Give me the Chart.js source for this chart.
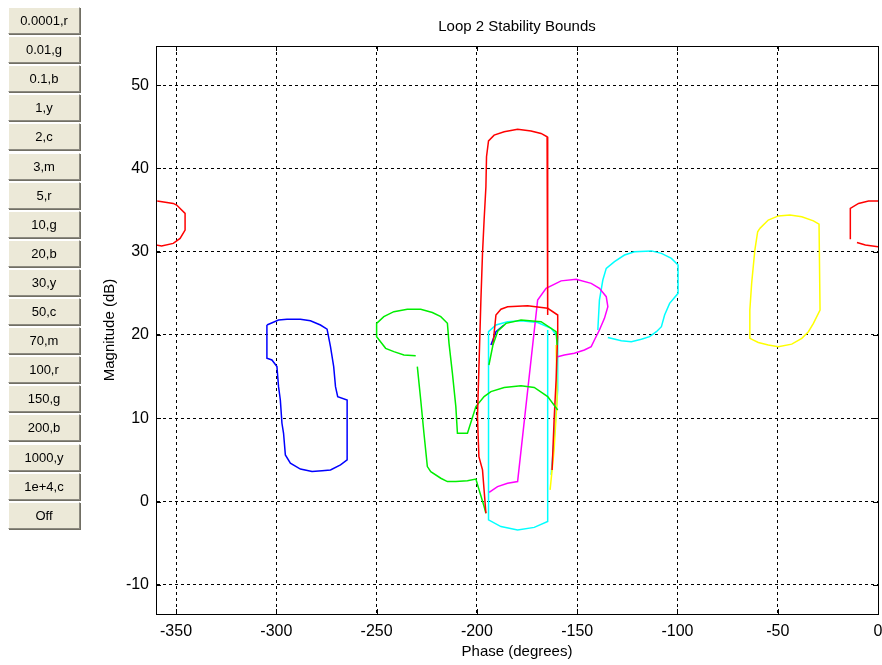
<!DOCTYPE html>
<html>
<head>
<meta charset="utf-8">
<script src="https://cdn.jsdelivr.net/npm/chart.js@4/dist/chart.umd.min.js"></script>
<style>
  body{margin:0;background:#fff;}
  #wrap{position:relative;width:882px;height:665px;overflow:hidden;}
  #chart{position:absolute;left:0;top:0;}
  .btn{position:absolute;left:8px;width:72px;height:27px;box-sizing:border-box;background:#ece9d8;
    border-top:1px solid #fff;border-left:1px solid #fff;border-right:1px solid #8c8a80;border-bottom:1px solid #8c8a80;
    box-shadow:1px 1px 0 #716f64;font:13px "Liberation Sans",Arial,sans-serif;color:#000;text-align:center;line-height:25px;}
</style>
</head>
<body>
<div id="wrap">
  <canvas id="chart" width="882" height="665"></canvas>
</div>
<script>
// tick labels / buttons
const phaseTicks = [-350,-300,-250,-200,-150,-100,-50,0];
const magTicks = [-10,0,10,20,30,40,50];
const freqButtons = ['0.0001,r','0.01,g','0.1,b','1,y','2,c','3,m','5,r','10,g','20,b','30,y','50,c','70,m','100,r','150,g','200,b','1000,y','1e+4,c','Off'];

// bound curves (phase in degrees, magnitude in dB)
const redWrapLPhase = [-359.4,-351.4,-349.7,-345.5,-345.5,-348,-351.4,-357.2,-360];
const redWrapLMag   = [36.1,35.8,35.6,34.6,32.6,31.6,31.0,30.7,30.8];
const redWrapRPhase = [-13.8,-13.8,-9.7,-4.7,0];
const redWrapRMag   = [31.5,35.2,35.8,36.1,36.1];
const redWrapR2Phase = [-10.5,-6.3,0];
const redWrapR2Mag   = [31.1,30.8,30.6];
const redTallPhase = [-195.5,-197.2,-199,-199.7,-198,-197.2,-196.4,-195.5,-195.2,-194.2,-191.4,-186.4,-179.7,-173,-168,-165,-164.7];
const redTallMag   = [-1.4,3.8,5.4,10.2,24.2,29.8,33.8,37.8,41.4,43.3,44.0,44.4,44.7,44.5,44.2,43.8,22.4];
const redArcPhase = [-192,-190.5,-188,-184.7,-174.7,-164.7,-159.7,-159.7,-160.5,-161.5,-162.5];
const redArcMag   = [18.8,22.4,23.1,23.4,23.5,23.2,22.4,20.2,14.6,9.8,3.8];
const cyanCapPhase = [-164.7,-164.7,-171.4,-179.7,-188,-194.2,-194.2,-190.5,-184.7,-178,-169.7,-163,-159.7,-159.7,-161.5,-163];
const cyanCapMag   = [20.6,-2.4,-3.1,-3.4,-3.0,-2.2,20.4,21.2,21.6,21.7,21.5,20.8,19.8,13.4,7.4,3.2];
const greenMainPhase = [-230.5,-236.4,-241.4,-245.5,-250,-250,-246.4,-241.4,-234.7,-228,-222.2,-218,-214.7,-213.9,-212.2,-210.5,-209.7,-204.7,-200.5,-196.4,-193,-186.4,-178,-171.4,-164.7,-159.7];
const greenMainMag   = [17.5,17.6,18.0,18.4,19.8,21.4,22.2,22.8,23.1,23.1,22.7,22.2,21.4,19.0,15.4,11.4,8.2,8.2,11.4,12.6,13.2,13.7,13.9,13.7,12.6,11.0];
const greenLowPhase = [-229.7,-228,-226.4,-224.7,-223,-218,-214.7,-210.5,-204.7,-200.5,-198.9,-196.4,-195.5];
const greenLowMag   = [16.2,12.2,8.2,4.2,3.6,2.8,2.4,2.4,2.5,2.7,1.4,-0.6,-1.4];
const greenTopPhase = [-194,-192,-189.5,-185.5,-178,-168,-160.5,-160];
const greenTopMag   = [16.4,18.8,20.5,21.4,21.8,21.6,20.4,18.8];
const bluePhase = [-304.7,-298.9,-294.7,-288,-283,-278,-274.7,-273,-271.4,-270.5,-269.4,-264.7,-264.7,-268,-273,-277.2,-282.2,-288,-293,-295.5,-296.4,-297.2,-298,-298.9,-299.7,-302.2,-304.7,-304.7];
const blueMag   = [21.2,21.8,21.9,21.9,21.7,21.2,20.7,18.6,16.2,13.8,12.6,12.2,5.0,4.4,3.8,3.7,3.6,3.9,4.6,5.6,8.2,9.4,12.2,13.8,16.2,17.0,17.2,21.2];
const blueBitPhase = [-193,-190.5,-186.5];
const blueBitMag   = [18.8,20.4,21.2];
const magentaPhase = [-193.9,-189.7,-184.7,-179.7,-169.7,-165.5,-158,-150.5,-143,-138.9,-135.5,-134.7,-136.4,-138.9,-141.4,-143,-146.4,-151.4,-156.4,-159.7];
const magentaMag   = [1.1,1.8,2.2,2.4,24.2,25.6,26.5,26.7,26.2,25.6,24.6,23.4,22.0,20.6,19.4,18.6,18.2,17.8,17.6,17.4];
const cyanRightPhase = [-134.7,-128,-123,-118,-113.9,-110.5,-108,-106.4,-103.9,-99.7,-99.7,-103,-108,-113,-121.4,-126.4,-131.4,-135.5,-137.2,-138.9,-139.7];
const cyanRightMag   = [19.7,19.3,19.2,19.5,19.8,20.4,21.0,22.4,23.8,25.0,28.4,29.2,29.8,30.1,30.0,29.6,28.8,28.0,26.6,24.2,20.6];
const yellowPhase = [-58.9,-54.7,-49.7,-43.9,-38,-32.2,-29.4,-28.9,-32.2,-34.7,-38,-43,-49.7,-54.7,-59.7,-63.9,-63.9,-63,-61.4,-60,-58.9];
const yellowMag   = [32.8,33.8,34.3,34.4,34.2,33.7,33.3,23.0,21.4,20.4,19.6,18.9,18.6,18.8,19.1,19.6,23.0,26.2,30.2,32.4,32.8];
const yellowBitPhase = [-160.5,-160,-161.5,-163.5];
const yellowBitMag   = [18.8,12.2,6.2,1.4];

const pts = (ph, mg) => ph.map((p,i) => ({x:p, y:mg[i]}));
const curve = (ph, mg, color) => ({ data: pts(ph,mg), borderColor: color, borderWidth: 1.5, showLine: true, pointRadius: 0, fill: false, tension: 0 });

freqButtons.forEach((t,i) => {
  const b = document.createElement('div');
  b.className = 'btn';
  b.style.top = (7 + i*29.1) + 'px';
  b.textContent = t;
  document.getElementById('wrap').appendChild(b);
});

const FONT = '"Liberation Sans", Arial, sans-serif';

const framePlugin = {
  id: 'frame',
  afterDraw(chart){
    const {ctx, chartArea:a, scales} = chart;
    ctx.save();
    ctx.strokeStyle = '#000';
    ctx.lineWidth = 1;
    ctx.setLineDash([]);
    ctx.beginPath();
    phaseTicks.forEach(v => {
      const x = Math.round(scales.x.getPixelForValue(v)) + 0.5;
      ctx.moveTo(x, a.bottom); ctx.lineTo(x, a.bottom - 5);
      ctx.moveTo(x, a.top); ctx.lineTo(x, a.top + 5);
    });
    magTicks.forEach(v => {
      const y = Math.round(scales.y.getPixelForValue(v)) + 0.5;
      ctx.moveTo(a.left, y); ctx.lineTo(a.left + 5, y);
      ctx.moveTo(a.right, y); ctx.lineTo(a.right - 5, y);
    });
    ctx.stroke();
    ctx.strokeRect(Math.round(a.left) + 0.5, Math.round(a.top) + 0.5, Math.round(a.right - a.left), Math.round(a.bottom - a.top));
    ctx.restore();
  }
};

new Chart(document.getElementById('chart').getContext('2d'), {
  type: 'scatter',
  data: { datasets: [
    curve(redWrapLPhase, redWrapLMag, '#ff0000'),
    curve(redWrapRPhase, redWrapRMag, '#ff0000'),
    curve(redWrapR2Phase, redWrapR2Mag, '#ff0000'),
    curve(redTallPhase, redTallMag, '#ff0000'),
    curve(bluePhase, blueMag, '#0000ff'),
    curve(greenMainPhase, greenMainMag, '#00ee00'),
    curve(greenLowPhase, greenLowMag, '#00ee00'),
    curve(greenTopPhase, greenTopMag, '#00ee00'),
    curve(redArcPhase, redArcMag, '#ff0000'),
    curve(blueBitPhase, blueBitMag, '#0000ff'),
    curve(yellowBitPhase, yellowBitMag, '#ffff00'),
    curve(magentaPhase, magentaMag, '#ff00ff'),
    curve(cyanCapPhase, cyanCapMag, '#00ffff'),
    curve(cyanRightPhase, cyanRightMag, '#00ffff'),
    curve(yellowPhase, yellowMag, '#ffff00')
  ]},
  options: {
    responsive: false,
    animation: false,
    layout: { padding: { left: 0, right: 4, top: 0, bottom: 0 } },
    plugins: {
      legend: { display: false },
      tooltip: { enabled: false }
    },
    scales: {
      x: {
        type: 'linear', min: -360, max: 0,
        afterBuildTicks: s => { s.ticks = phaseTicks.map(v => ({value: v})); },
        afterFit: s => { s.height = 51; s.paddingLeft = 0; s.paddingRight = 0; },
        ticks: { color: '#000', font: { family: FONT, size: 16 }, padding: 8 },
        grid: { color: '#000', lineWidth: 1, drawTicks: false },
        border: { display: true, color: '#000', dash: [3,3] },
        title: { display: true, text: 'Phase (degrees)', color: '#000', font: { family: FONT, size: 15 }, padding: { top: 0, bottom: 4 } }
      },
      top: {
        type: 'linear', position: 'top', min: -360, max: 0,
        afterFit: s => { s.height = 46; s.paddingLeft = 0; s.paddingRight = 0; },
        ticks: { display: false },
        grid: { display: false, drawTicks: false },
        border: { display: false },
        title: { display: true, text: 'Loop 2 Stability Bounds', color: '#000', font: { family: FONT, size: 15 }, padding: { top: 18, bottom: 0 } }
      },
      y: {
        type: 'linear', min: -13.5, max: 54.7,
        afterBuildTicks: s => { s.ticks = magTicks.map(v => ({value: v})); },
        afterFit: s => { s.width = 156; s.paddingTop = 0; s.paddingBottom = 0; },
        ticks: { color: '#000', font: { family: FONT, size: 16 }, padding: 7 },
        grid: { color: '#000', lineWidth: 1, drawTicks: false },
        border: { display: true, color: '#000', dash: [3,3] },
        title: { display: true, text: 'Magnitude (dB)', color: '#000', font: { family: FONT, size: 15 }, padding: { top: 101, bottom: 0 } }
      }
    }
  },
  plugins: [framePlugin]
});
</script>
</body>
</html>
